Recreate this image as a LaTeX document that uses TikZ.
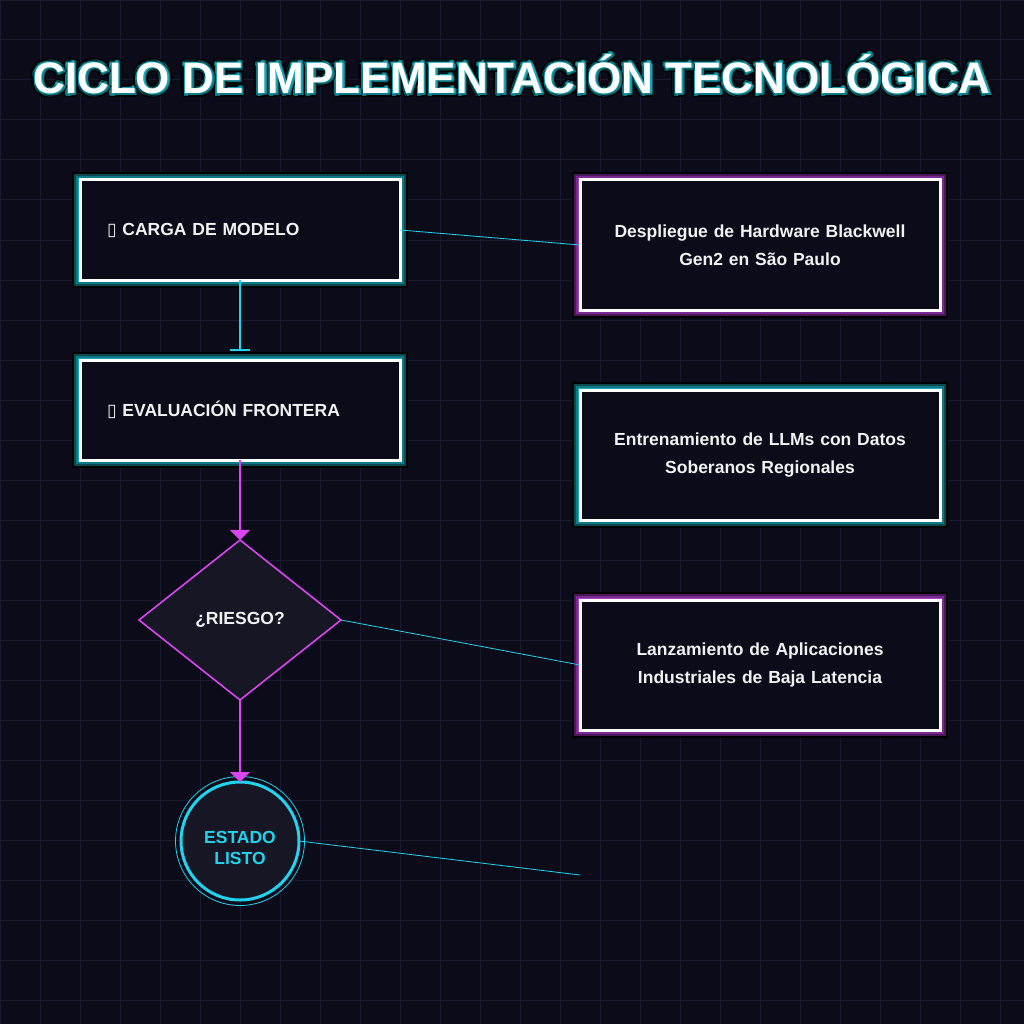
\documentclass[tikz,border=0pt]{standalone}
\usepackage{fontspec}
\setmainfont{Liberation Sans}
\newfontfamily\symfont{DejaVu Sans}
\usetikzlibrary{shapes.geometric,arrows.meta}
\definecolor{bg}{HTML}{0B0B1A}
\definecolor{gridc}{HTML}{1A1A2E}
\definecolor{neon}{HTML}{22D3EE}
\definecolor{neonpink}{HTML}{D946EF}
\definecolor{tealA}{HTML}{0C4A52}
\definecolor{tealB}{HTML}{0E7A86}
\definecolor{tealC}{HTML}{18A8B8}
\definecolor{purpA}{HTML}{4A1858}
\definecolor{purpB}{HTML}{7A2A92}
\definecolor{purpC}{HTML}{A445BE}
\definecolor{shapefill}{HTML}{161624}
\definecolor{ink}{HTML}{F2F2F2}
\newcommand{\titletext}{CICLO DE IMPLEMENTACIÓN TECNOLÓGICA}

\begin{document}
\begin{tikzpicture}[x=1pt,y=-1pt,
  every node/.style={font=\bfseries\fontsize{17.5}{28}\selectfont, outer sep=0pt, inner sep=0pt},
  card/.style={rectangle, draw=white, line width=3pt, fill=bg, text=ink},
  tealcard/.style={card, preaction={draw=black,line width=16pt}, preaction={draw=tealA,line width=12pt},
    preaction={draw=tealB,line width=8pt}, preaction={draw=tealC,line width=4pt}},
  purpcard/.style={card, preaction={draw=black,line width=16pt}, preaction={draw=purpA,line width=12pt},
    preaction={draw=purpB,line width=8pt}, preaction={draw=purpC,line width=4pt}},
  leftcard/.style={minimum width=320pt, minimum height=100pt, text width=266pt, align=left},
  rightcard/.style={minimum width=360pt, minimum height=130pt, text width=340pt, align=center},
  titlefont/.style={font=\bfseries\fontsize{44}{50}\selectfont}]
	\useasboundingbox (0,0) rectangle (1024,1024);
	\fill[bg] (0,0) rectangle (1024,1024);
	\draw[gridc, line width=1pt] (0pt,-1024pt) grid[step=40pt] (1024pt,0pt);

	\coordinate (t0) at (512,74);
	\foreach \a [count=\i] in {0,22.5,...,337.5} {
		\node (tk\i) [titlefont, text=black] at ([shift={(\a:4.2pt)}]t0) {\titletext};
		\node (tm\i) [titlefont, text=tealB] at ([shift={(\a:3pt)}]t0) {\titletext};
		\node (tn\i) [titlefont, text=tealC] at ([shift={(\a:1.5pt)}]t0) {\titletext};
	}
	\node (title) [titlefont, text=white] at (t0) {\titletext};

	\node (b1) at (240,230) [tealcard, leftcard] {{\symfont ▯} CARGA DE MODELO};
	\node (b2) at (240,410) [tealcard, leftcard] {{\symfont ▯} EVALUACIÓN FRONTERA};
	\node (d1) at (240,620) [diamond, aspect=1.25, draw=neonpink, line width=1.6pt, fill=shapefill,
		minimum width=202pt, minimum height=160pt, text=ink] {¿RIESGO?};
	\node (s1) at (240,841) [circle, draw=neon, line width=3pt, fill=shapefill, minimum size=118pt,
		text=neon, font=\bfseries\fontsize{17.5}{20.5}\selectfont]
		{\raisebox{-9pt}[\height][\depth]{\begin{tabular}{@{}c@{}}ESTADO\\LISTO\end{tabular}}};
	\draw[neon, line width=0.8pt] (s1.center) circle (64.5);

	\node (r1) at (760,245) [purpcard, rightcard] {Despliegue de Hardware Blackwell\\Gen2 en São Paulo};
	\node (r2) at (760,455) [tealcard, rightcard] {Entrenamiento de LLMs con Datos\\Soberanos Regionales};
	\node (r3) at (760,665) [purpcard, rightcard] {Lanzamiento de Aplicaciones\\Industriales de Baja Latencia};
	\coordinate (c1) at (580,875);

	\draw[neon, line width=2.5pt, -{Bar[width=20pt,line width=2pt]}, shorten >=9pt] (b1) -- (b2);
	\draw[neonpink, line width=2pt, -{Triangle[width=20pt,length=10pt]}] (b2) -- (d1);
	\draw[neonpink, line width=2pt, -{Triangle[width=20pt,length=10pt]}] (d1) -- (s1);
	\draw[neon, line width=0.8pt] (b1.east) -- (r1.west);
	\draw[neon, line width=0.8pt] (d1.east) -- (r3.west);
	\draw[neon, line width=0.8pt] (s1.east) -- (c1);
\end{tikzpicture}
\end{document}
